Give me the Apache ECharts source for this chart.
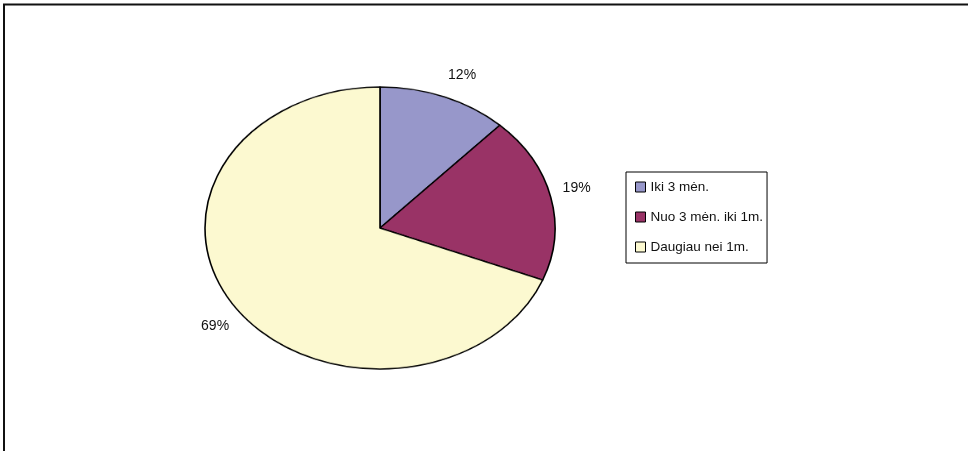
<!DOCTYPE html>
<html>
<head>
<meta charset="utf-8">
<script src="https://cdn.jsdelivr.net/npm/echarts@6/dist/echarts.min.js"></script>
<style>
  html, body { margin: 0; padding: 0; background: #fff; }
  #wrap { position: relative; width: 968px; height: 451px; overflow: hidden; }
  #pie { position: absolute; left: 0; top: 0; width: 968px; height: 451px;
         transform: scaleY(0.806); transform-origin: 0 228px; }
  #over { position: absolute; left: 0; top: 0; width: 968px; height: 451px; }
</style>
</head>
<body>
<div id="wrap">
  <div id="pie"></div>
  <div id="over"></div>
</div>
<script>
const categories = ['Iki 3 mėn.', 'Nuo 3 mėn. iki 1m.', 'Daugiau nei 1m.'];
const values = [12, 19, 69];
const labels = ['12%', '19%', '69%'];

const colors = ['#9797CA', '#993366', '#FCF9D0'];
const labelLen1 = [14.5, 33, 24];
const labelLen2 = [3.5, 0, 3];
const FONT = '"Liberation Sans", Arial, sans-serif';

const center = [380, 228];

// Chart A: the elliptical pie (scaled vertically via CSS)
const pieChart = echarts.init(document.getElementById('pie'), null, { renderer: 'canvas' });
pieChart.setOption({
  animation: false,
  series: [{
    type: 'pie',
    center: center,
    radius: 175,
    startAngle: 90,
    clockwise: true,
    silent: true,
    label: { show: false },
    labelLine: { show: false },
    emphasis: { disabled: true },
    data: categories.map((c, i) => ({
      name: c, value: values[i],
      itemStyle: { color: colors[i], borderColor: '#000', borderWidth: 1.6 }
    }))
  }]
});

// Chart B: labels, legend, frame
const overChart = echarts.init(document.getElementById('over'), null, { renderer: 'canvas' });
overChart.setOption({
  animation: false,
  graphic: [{
    type: 'rect',
    shape: { x: 4, y: 4.5, width: 1000, height: 500 },
    style: { fill: 'none', stroke: '#111', lineWidth: 2 },
    silent: true
  }],
  legend: {
    orient: 'vertical',
    left: 626,
    top: 172,
    padding: [7, 4, 8, 9],
    borderColor: '#000',
    borderWidth: 1,
    itemWidth: 10,
    itemHeight: 10,
    itemGap: 14,
    icon: 'rect',
    selectedMode: false,
    textStyle: { fontFamily: FONT, fontSize: 13.5, color: '#111', lineHeight: 16 },
    data: categories.map((c, i) => ({
      name: c,
      itemStyle: { color: colors[i], borderColor: '#000', borderWidth: 1 }
    }))
  },
  series: [{
    type: 'pie',
    center: center,
    radius: 150,
    startAngle: 90,
    clockwise: true,
    silent: true,
    emphasis: { disabled: true },
    avoidLabelOverlap: false,
    itemStyle: { color: 'transparent', borderWidth: 0 },
    label: {
      show: true,
      position: 'outside',
      color: '#111',
      fontFamily: FONT,
      fontSize: 14,
      distanceToLabelLine: 4,
      formatter: (p) => labels[p.dataIndex]
    },
    data: categories.map((c, i) => ({
      name: c, value: values[i],
      labelLine: { show: false, length: labelLen1[i], length2: labelLen2[i] }
    }))
  }]
});
</script>
</body>
</html>
